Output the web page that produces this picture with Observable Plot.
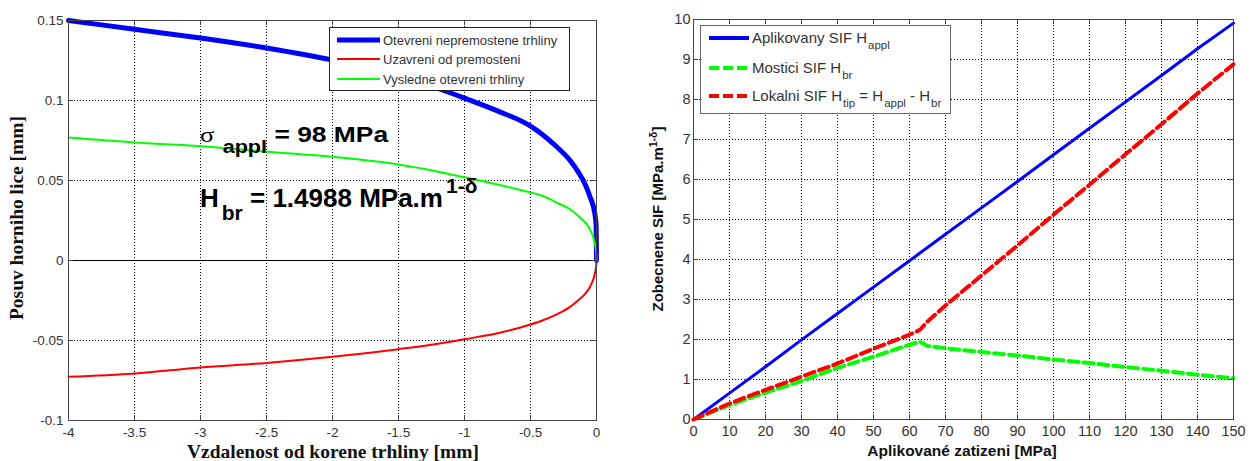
<!DOCTYPE html>
<html><head><meta charset="utf-8">
<script src="https://cdn.jsdelivr.net/npm/d3@7"></script>
<script src="https://cdn.jsdelivr.net/npm/@observablehq/plot@0.6"></script>
<style>
body{margin:0;background:#fff;}
#wrap{position:relative;width:1255px;height:461px;overflow:hidden;font-family:"Liberation Sans",Arial,sans-serif;}
#wrap > figure, #wrap > svg{position:absolute;margin:0;}
.abs{position:absolute;white-space:nowrap;line-height:1;}
.row{position:absolute;display:flex;align-items:center;white-space:nowrap;line-height:1;}
</style></head><body><div id="wrap"></div>
<script>
// ---------- Left panel data (crack opening profile) ----------
const crackX     = [-4, -3.5, -3, -2.5, -2, -1.5, -1.2, -1, -0.75, -0.5, -0.41, -0.31, -0.2, -0.14, -0.088, -0.05, -0.012, -0.003, 0];
const unbridged  = [0.150, 0.1445, 0.139, 0.1328, 0.1252, 0.1152, 0.1075, 0.1015, 0.0935, 0.084, 0.0788, 0.0717, 0.0625, 0.0555, 0.048, 0.040, 0.029, 0.022, 0];
const bridging   = [-0.0727, -0.0706, -0.0668, -0.064, -0.0602, -0.0554, -0.052, -0.0492, -0.0455, -0.040, -0.0375, -0.034, -0.029, -0.025, -0.021, -0.0166, -0.0081, -0.004, 0];
const resulting  = [0.0768, 0.0737, 0.0714, 0.068, 0.0648, 0.060, 0.0555, 0.052, 0.0475, 0.0425, 0.0405, 0.0365, 0.032, 0.028, 0.024, 0.0195, 0.0105, 0.006, 0];
const leftXTicks = [-4, -3.5, -3, -2.5, -2, -1.5, -1, -0.5, 0];
const leftYTicks = [-0.1, -0.05, 0, 0.05, 0.1, 0.15];

// ---------- Right panel data (SIF vs applied load) ----------
const loadMPa = [0, 10, 20, 30, 40, 50, 60, 62, 63, 65, 70, 80, 90, 100, 110, 120, 130, 140, 150];
const Happl   = [0, 0.66, 1.32, 1.99, 2.65, 3.31, 3.97, 4.1, 4.17, 4.3, 4.63, 5.29, 5.95, 6.62, 7.28, 7.94, 8.6, 9.27, 9.91];
const Hbr     = [0, 0.36, 0.67, 0.96, 1.29, 1.57, 1.87, 1.92, 1.94, 1.84, 1.78, 1.69, 1.6, 1.5, 1.41, 1.31, 1.22, 1.12, 1.03];
const Htip    = [0, 0.4, 0.74, 1.07, 1.4, 1.77, 2.12, 2.2, 2.25, 2.45, 2.85, 3.6, 4.35, 5.12, 5.87, 6.63, 7.38, 8.15, 8.88];
const rightXTicks = [0, 10, 20, 30, 40, 50, 60, 70, 80, 90, 100, 110, 120, 130, 140, 150];
const rightYTicks = [0, 1, 2, 3, 4, 5, 6, 7, 8, 9, 10];

const wrap = document.getElementById("wrap");
const fmt = d => String(d);
const frameColor = "#444";

// dotted grid drawn as rules through the scales
const gridStyle = {stroke: "#000", strokeOpacity: 1, strokeWidth: 1, strokeDasharray: "1,2", strokeDashoffset: 0.5, shapeRendering: "crispEdges"};
function gridMarks(xt, yt) {
  return [
    Plot.ruleX(xt, gridStyle),
    Plot.ruleY(yt, gridStyle)
  ];
}
function boxTicks(xt, yt, plotW, plotH, len) {
  const s = {stroke: frameColor, shapeRendering: "crispEdges"};
  return [
    Plot.ruleX(xt, {insetTop: plotH - len, ...s}),
    Plot.ruleX(xt, {insetBottom: plotH - len, ...s}),
    Plot.ruleY(yt, {insetRight: plotW - len, ...s}),
    Plot.ruleY(yt, {insetLeft: plotW - len, ...s})
  ];
}

// ---------- Left plot (plot area 528 x 400 so ticks land on whole pixels) ----------
const L = {w: 610, h: 461, ml: 68, mr: 14, mt: 20, mb: 41};
const leftRows = crackX.map((x, i) => ({x, unbridged: unbridged[i], bridging: bridging[i], resulting: resulting[i]}));
const leftPlot = Plot.plot({
  width: L.w, height: L.h,
  marginLeft: L.ml, marginRight: L.mr, marginTop: L.mt, marginBottom: L.mb,
  x: {domain: [-4, 0]},
  y: {domain: [-0.1, 0.15]},
  style: {fontFamily: "'Liberation Sans', Arial, sans-serif", fontSize: "13.5px", color: "#333", background: "transparent"},
  marks: [
    ...gridMarks(leftXTicks, leftYTicks),
    Plot.ruleY([0], {stroke: "#000", strokeWidth: 1, shapeRendering: "crispEdges"}),
    Plot.line(leftRows, {x: "x", y: "unbridged", stroke: "#0000ff", strokeWidth: 5, curve: "monotone-x"}),
    Plot.line(leftRows, {x: "x", y: "bridging", stroke: "#ff0000", strokeWidth: 2, curve: "monotone-x"}),
    Plot.line(leftRows, {x: "x", y: "resulting", stroke: "#00ff00", strokeWidth: 2, curve: "monotone-x"}),
    ...boxTicks(leftXTicks, leftYTicks, L.w - L.ml - L.mr, L.h - L.mt - L.mb, 5),
    Plot.frame({stroke: frameColor, shapeRendering: "crispEdges"}),
    Plot.axisX(leftXTicks, {anchor: "bottom", tickSize: 0, tickPadding: 7, tickFormat: fmt, label: null}),
    Plot.axisY(leftYTicks, {anchor: "left", tickSize: 0, tickPadding: 5, tickFormat: fmt, label: null})
  ]
});
leftPlot.style.left = "0px"; leftPlot.style.top = "0px";
wrap.appendChild(leftPlot);

// ---------- Right plot (plot area 540 x 400) ----------
const R = {x0: 615, w: 640, h: 461, ml: 78, mr: 22, mt: 19, mb: 42};
const rightRows = loadMPa.map((x, i) => ({x, appl: Happl[i], br: Hbr[i], tip: Htip[i]}));
const rightPlot = Plot.plot({
  width: R.w, height: R.h,
  marginLeft: R.ml, marginRight: R.mr, marginTop: R.mt, marginBottom: R.mb,
  x: {domain: [0, 150]},
  y: {domain: [0, 10]},
  style: {fontFamily: "'Liberation Sans', Arial, sans-serif", fontSize: "14.5px", color: "#333", background: "transparent"},
  marks: [
    ...gridMarks(rightXTicks, rightYTicks),
    Plot.line(rightRows, {x: "x", y: "appl", stroke: "#0000ff", strokeWidth: 3}),
    Plot.line(rightRows, {x: "x", y: "br", stroke: "#00ff00", strokeWidth: 4, strokeDasharray: "10,5"}),
    Plot.line(rightRows, {x: "x", y: "tip", stroke: "#ff0000", strokeWidth: 4, strokeDasharray: "10,5"}),
    ...boxTicks(rightXTicks, rightYTicks, R.w - R.ml - R.mr, R.h - R.mt - R.mb, 5),
    Plot.frame({stroke: frameColor, shapeRendering: "crispEdges"}),
    Plot.axisX(rightXTicks, {anchor: "bottom", tickSize: 0, tickPadding: 6, tickFormat: fmt, label: null}),
    Plot.axisY(rightYTicks, {anchor: "left", tickSize: 0, tickPadding: 3, tickFormat: fmt, label: null})
  ]
});
rightPlot.style.left = R.x0 + "px"; rightPlot.style.top = "0px";
wrap.appendChild(rightPlot);

// ---------- HTML overlays: labels, legends, annotations ----------
function el(html, css, cls = "abs") {
  const d = document.createElement("div");
  d.className = cls;
  d.innerHTML = html;
  d.style.cssText += css;
  wrap.appendChild(d);
  return d;
}
const serifB = "font-family:'Liberation Serif','Times New Roman',serif;font-weight:bold;color:#111;";
const sansB = "font-family:'Liberation Sans',Arial,sans-serif;font-weight:bold;color:#111;";

// Left axis labels
el("Posuv horniho lice [mm]", serifB + "font-size:19.5px;left:17px;top:218px;transform:translate(-50%,-50%) rotate(-90deg);");
el("Vzdalenost od korene trhliny [mm]", serifB + "font-size:19.5px;left:333px;top:442px;transform:translateX(-50%);");
// Right axis labels
el("Zobecnene SIF [MPa.m<span style='position:relative;top:-6px;font-size:10.5px;'>1-δ</span>]", sansB + "font-size:15px;left:657px;top:219px;transform:translate(-50%,-50%) rotate(-90deg);");
el("Aplikované zatizeni [MPa]", sansB + "font-size:15.5px;left:962px;top:443px;transform:translateX(-50%);");

// Left annotations
el("<span style=\"font-family:'Liberation Serif',serif;font-weight:normal;font-size:22px;\">σ</span>" +
   "<span style='position:relative;top:11px;margin-left:7px;font-size:18px;'>appl</span> = 98 MPa",
   sansB + "font-size:22px;color:#000;left:200px;top:124px;transform:scaleX(1.2);transform-origin:0 0;");
el("H<span style='position:relative;top:13px;font-size:21px;margin-left:3px;'>br</span> = 1.4988 MPa.m" +
   "<span style='position:relative;top:-14px;font-size:21px;margin-left:3px;'>1-δ</span>",
   sansB + "font-size:26px;color:#000;left:200px;top:185px;");

// Legends
function legendBox(x, y, w, h, border) {
  el("", `left:${x}px;top:${y}px;width:${w}px;height:${h}px;background:#fff;border:${border};box-sizing:border-box;`);
}
function legendRow(x, yc, sampleW, stroke, sw, dash, html, fontSize, gap) {
  const svg = `<svg width="${sampleW}" height="10" style="display:block;flex:none;"><line x1="0" x2="${sampleW}" y1="5" y2="5" stroke="${stroke}" stroke-width="${sw}" ${dash ? `stroke-dasharray="${dash}"` : ""}/></svg>`;
  el(svg + `<span style="margin-left:${gap}px;">${html}</span>`,
     `left:${x}px;top:${yc - 10}px;height:20px;font-size:${fontSize}px;color:#333;`, "row");
}
// Left legend
legendBox(329, 27, 241, 64, "1px solid #222");
legendRow(337, 40, 43, "#0000ff", 5, null, "Otevreni nepremostene trhliny", 13, 3);
legendRow(337, 59, 43, "#ff0000", 2, null, "Uzavreni od premosteni", 13, 3);
legendRow(337, 79, 43, "#00ff00", 2, null, "Vysledne otevreni trhliny", 13, 3);
// Right legend
const sub = t => `<span style="position:relative;top:6px;font-size:11.5px;margin-left:1px;">${t}</span>`;
legendBox(700, 25, 251, 89, "1.5px solid #666");
legendRow(709, 38, 40, "#0000ff", 4, null, "Aplikovany SIF H" + sub("appl"), 15, 3);
legendRow(709, 68, 40, "#00ff00", 4, "10,4", "Mostici SIF H" + sub("br"), 15, 3);
legendRow(709, 96, 40, "#ff0000", 4, "10,4", "Lokalni SIF H" + sub("tip") + " = H" + sub("appl") + " - H" + sub("br"), 15, 3);
</script>
</body></html>
